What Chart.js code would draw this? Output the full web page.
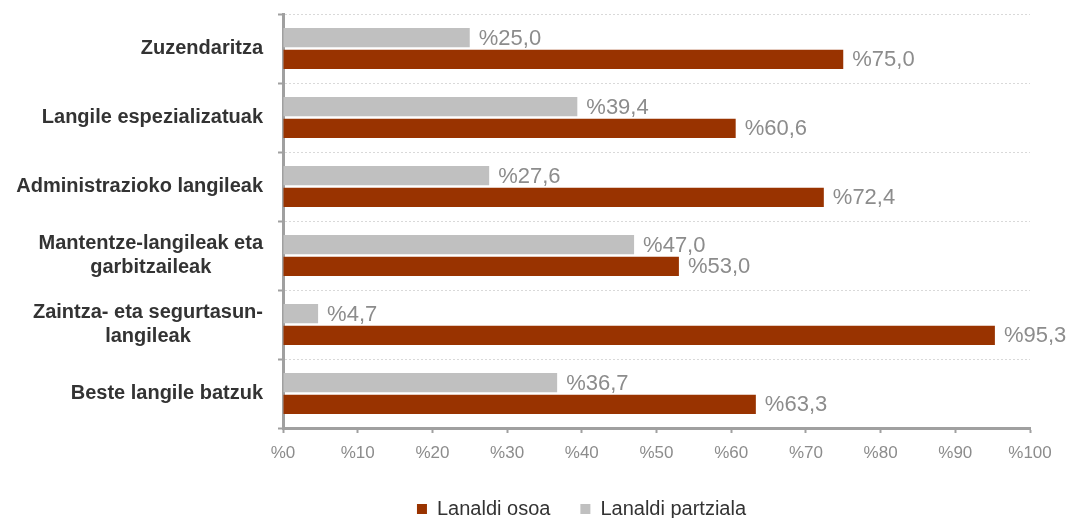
<!DOCTYPE html>
<html>
<head>
<meta charset="utf-8">
<script src="https://cdn.jsdelivr.net/npm/chart.js@4"></script>
<style>
  html, body { margin: 0; padding: 0; background: #ffffff; }
  #wrap { width: 1077px; height: 518px; position: relative; }
</style>
</head>
<body>
<div id="wrap"><canvas id="c"></canvas></div>
<script>
const categories = [
  ['Zuzendaritza'],
  ['Langile espezializatuak'],
  ['Administrazioko langileak'],
  ['Mantentze-langileak eta', 'garbitzaileak'],
  ['Zaintza- eta segurtasun-', 'langileak'],
  ['Beste langile batzuk']
];
const seriesNames = ['Lanaldi osoa', 'Lanaldi partziala'];
const fullTime = [75.0, 60.6, 72.4, 53.0, 95.3, 63.3];
const partTime = [25.0, 39.4, 27.6, 47.0, 4.7, 36.7];
const xTickMin = 0, xTickMax = 100, xTickStep = 10;

const FONT = '"Liberation Sans", Arial, sans-serif';
const fmt = v => '%' + v.toFixed(1).replace('.', ',');

const valueLabels = {
  id: 'valueLabels',
  afterDatasetsDraw(chart) {
    const ctx = chart.ctx;
    ctx.save();
    ctx.font = '22px ' + FONT;
    ctx.fillStyle = '#8c8c8c';
    ctx.textAlign = 'left';
    ctx.textBaseline = 'middle';
    chart.data.datasets.forEach((ds, di) => {
      const meta = chart.getDatasetMeta(di);
      meta.data.forEach((bar, i) => {
        ctx.fillText(fmt(ds.data[i]), bar.x + 9, bar.y + 1);
      });
    });
    ctx.restore();
  }
};

const categoryLabels = {
  id: 'categoryLabels',
  afterDraw(chart) {
    const ctx = chart.ctx;
    const y = chart.scales.y;
    const rightEdge = chart.chartArea.left - 20;
    ctx.save();
    ctx.font = 'bold 20px ' + FONT;
    ctx.fillStyle = '#333333';
    ctx.textAlign = 'center';
    ctx.textBaseline = 'middle';
    categories.forEach((lines, i) => {
      const cy = y.getPixelForTick(i);
      const widest = Math.max(...lines.map(l => ctx.measureText(l).width));
      const cx = rightEdge - widest / 2;
      const lh = 23.5;
      const y0 = cy - (lines.length - 1) * lh / 2;
      lines.forEach((l, k) => ctx.fillText(l, cx, y0 + k * lh));
    });
    ctx.restore();
  }
};

new Chart(document.getElementById('c'), {
  type: 'bar',
  data: {
    labels: categories,
    datasets: [
      { label: seriesNames[1], data: partTime, backgroundColor: '#c0c0c0', borderWidth: 0,
        categoryPercentage: 0.63, barPercentage: 0.875 },
      { label: seriesNames[0], data: fullTime, backgroundColor: '#993300', borderWidth: 0,
        categoryPercentage: 0.63, barPercentage: 0.875 }
    ]
  },
  options: {
    indexAxis: 'y',
    responsive: true,
    maintainAspectRatio: false,
    animation: false,
    layout: { padding: { top: 14, left: 133, right: 47, bottom: -11 } },
    plugins: {
      tooltip: { enabled: false },
      legend: {
        position: 'bottom',
        labels: {
          boxWidth: 10, boxHeight: 10, padding: 30,
          color: '#333333',
          font: { family: FONT, size: 20 },
          sort: (a, b) => b.datasetIndex - a.datasetIndex
        }
      }
    },
    scales: {
      x: {
        min: xTickMin, max: xTickMax,
        ticks: {
          stepSize: xTickStep,
          color: '#8c8c8c',
          padding: 10,
          font: { family: FONT, size: 17 },
          callback: v => '%' + v
        },
        grid: { drawOnChartArea: false, drawTicks: true, tickLength: 5, tickWidth: 2, tickColor: '#a0a0a0' },
        border: { display: true, color: '#a0a0a0', width: 3 },
        afterFit: s => { s.height = 41; }
      },
      y: {
        ticks: { display: false },
        grid: { color: '#d9d9d9', lineWidth: 1, drawTicks: true, tickLength: 5, tickWidth: 2, tickColor: '#a0a0a0', offset: true },
        border: { display: true, color: '#a0a0a0', width: 3, dash: [2, 2] },
        afterFit: s => { s.width = 150; }
      }
    }
  },
  plugins: [valueLabels, categoryLabels]
});
</script>
</body>
</html>
